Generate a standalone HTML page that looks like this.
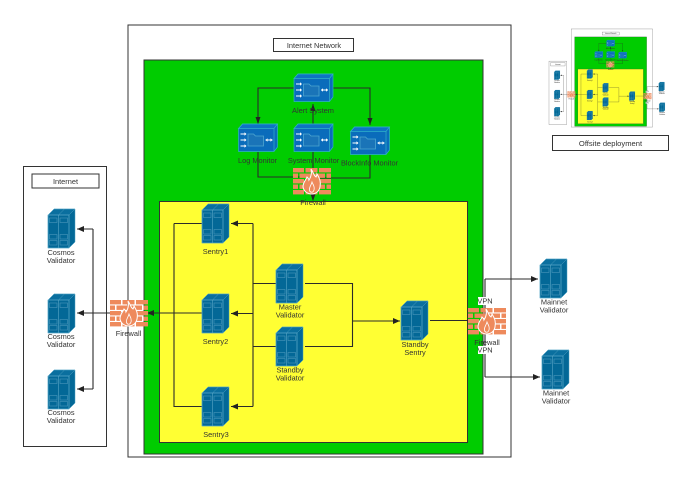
<!DOCTYPE html>
<html><head><meta charset="utf-8"><style>
html,body{margin:0;padding:0;background:#fff;width:700px;height:488px;overflow:hidden}
svg{display:block}
text{font-family:"Liberation Sans",sans-serif;font-size:7.4px;fill:#333;text-anchor:middle}
.c{fill:none;stroke:#2b2b2b;stroke-width:1.1}
.b{stroke:#333;stroke-width:1}
</style></head><body>
<svg width="700" height="488" viewBox="0 0 700 488" xmlns="http://www.w3.org/2000/svg">
<defs>
<filter id="soft" x="-5%" y="-5%" width="110%" height="110%"><feGaussianBlur stdDeviation=".35"/></filter>
<g id="srv">
<path d="M0 6L6 0H27V33L21 39H0Z" fill="#036897" stroke="#4fa3c4" stroke-width=".5"/>
<path d="M0 6L6 0H27L21 6Z" fill="#0a6f9f" stroke="#5aa9c9" stroke-width=".5"/>
<path d="M10.500 6L16.500 0M21 6L27 0M21 6V39" fill="none" stroke="#4f9fc0" stroke-width=".5"/>
<path d="M0 6H21V39H0ZM10.500 6V39" fill="none" stroke="#5aa9c9" stroke-width=".6"/>
<g fill="none" stroke="#4a97bb" stroke-width=".6">
<rect x="1.500" y="9" width="7.500" height="4.500"/><rect x="12" y="9" width="7.500" height="4.500"/>
<rect x="1.500" y="25.500" width="7.500" height="4.500"/><rect x="12" y="25.500" width="7.500" height="4.500"/>
<rect x="1.500" y="31.500" width="7.500" height="4.500"/><rect x="12" y="31.500" width="7.500" height="4.500"/>
</g>
</g>
<g id="mon">
<path d="M0 4.500L4 0H39V23L35.500 27.500H0Z" fill="#0a6cbb" stroke="#2fb0c8" stroke-width=".7"/>
<path d="M0 4.500L4 0H39L35.500 4.500ZM35.500 4.500V27.500" fill="#0d74c4" stroke="#2fb0c8" stroke-width=".7"/>
<path d="M9.500 10H15L17 12H25V22H9.500Z" fill="#1a74b8" stroke="#4ea6d0" stroke-width=".8"/>
<g stroke="#fff" stroke-width="1" fill="#fff">
<path d="M2 10H6M2 16H6M2 22H6" /><path d="M6 8.300L8 10L6 11.700ZM6 14.300L8 16L6 17.700ZM6 20.300L8 22L6 23.700Z" stroke="none"/>
<path d="M27 16H34" /><path d="M29 14.300L27 16L29 17.700ZM32 14.300L34 16L32 17.700Z" stroke="none"/>
</g>
</g>
<g id="fw">
<g fill="#ee8a5c">
<rect x="0" y="0" width="11" height="4.400"/><rect x="12.500" y="0" width="12" height="4.400"/><rect x="26" y="0" width="12" height="4.400"/>
<rect x="0" y="5.500" width="5" height="4.400"/><rect x="6.500" y="5.500" width="12" height="4.400"/><rect x="20" y="5.500" width="12" height="4.400"/><rect x="33.500" y="5.500" width="4.500" height="4.400"/>
<rect x="0" y="11" width="11" height="4.400"/><rect x="12.500" y="11" width="12" height="4.400"/><rect x="26" y="11" width="12" height="4.400"/>
<rect x="0" y="16.500" width="5" height="4.400"/><rect x="6.500" y="16.500" width="12" height="4.400"/><rect x="20" y="16.500" width="12" height="4.400"/><rect x="33.500" y="16.500" width="4.500" height="4.400"/>
<rect x="0" y="22" width="11" height="4.400"/><rect x="12.500" y="22" width="12" height="4.400"/><rect x="26" y="22" width="12" height="4.400"/>
</g>
<path d="M18 1C21 5 20 7 23 9C24 7 24 7 24 6C27 11 28 14 27 19C26 24 22 26 19 26C15 26 11 24 10 19C10 14 13 12 14 9C15 10 16 11 16 12C18 9 19 5 18 1Z" fill="#ee8a5c" stroke="#fff" stroke-width="1"/>
<path d="M19 14C20 17 22 18 21 22C20 25 17 25 16.500 22C16 19 18 18 19 14Z" fill="none" stroke="#fff" stroke-width=".8"/>
</g>
<path id="al" d="M0 0L7 -3V3Z" fill="#222"/>
<path id="ar" d="M0 0L-7 -3V3Z" fill="#222"/>
<path id="ad" d="M0 0L-2.500 -7H2.500Z" fill="#222"/>
<path id="au" d="M0 0L-2.500 7H2.500Z" fill="#222"/>
<g id="main">
<rect x="128" y="25" width="383" height="432" fill="#fff" stroke="#333"/>
<rect x="273.500" y="38.500" width="80" height="13" fill="#fff" class="b"/>
<text x="314" y="48">Internet Network</text>
<rect x="144" y="60" width="339" height="394" fill="#00cc00" stroke="#333"/>
<rect x="159.500" y="201.500" width="308" height="241" fill="#ffff33" stroke="#333"/>
<rect x="23.500" y="166.500" width="83" height="280" fill="#fff" class="b"/>
<rect x="32" y="174" width="67" height="14" fill="#fff" class="b"/>
<text x="65.500" y="184">Internet</text>

<path class="c" d="M294 88H258V124M333 88H370V125M313 124V104M313 152V200M258 152V177H313M370 155V178H313"/>
<path class="c" d="M147 313H77M93 229H77M93 229V389M93 389H77M202 313H147M174 223.500H202M174 223.500V406.500H202"/>
<path class="c" d="M276 283.500H253M276 346.500H253M253 223.500V406.500M253 223.500H231M253 313.500H231M253 406.500H231"/>
<path class="c" d="M305 283.500H352.500V346.500H305M352.500 321H400M430 320.500H468M485 279V377M485 279H538M485 377H540"/>
<use href="#ad" x="258" y="124"/><use href="#ad" x="370" y="125"/><use href="#au" x="313" y="104"/><use href="#ad" x="313" y="201"/>
<use href="#al" x="77" y="229"/><use href="#al" x="77" y="313"/><use href="#al" x="77" y="389"/><use href="#al" x="147" y="313"/>
<use href="#al" x="231" y="223.500"/><use href="#al" x="231" y="313.500"/><use href="#al" x="231" y="406.500"/>
<use href="#ar" x="400" y="321"/><use href="#ar" x="538" y="279"/><use href="#ar" x="540" y="377"/>

<use href="#mon" x="294" y="74"/><use href="#mon" x="238.500" y="124"/><use href="#mon" x="294" y="124"/><use href="#mon" x="350.500" y="127"/>
<text x="313" y="113">Alert  System</text><text x="257.500" y="163">Log Monitor</text><text x="313.500" y="163">System Monitor</text><text x="369.500" y="165.500">BlockInfo Monitor</text>

<use href="#srv" x="48" y="209"/><use href="#srv" x="48" y="294"/><use href="#srv" x="48" y="370"/>
<text x="61" y="255">Cosmos</text><text x="61" y="263">Validator</text>
<text x="61" y="339">Cosmos</text><text x="61" y="347">Validator</text>
<text x="61" y="415">Cosmos</text><text x="61" y="423">Validator</text>
<use href="#srv" x="202" y="204"/><use href="#srv" x="202" y="294"/><use href="#srv" x="202" y="387"/>
<text x="215.500" y="254">Sentry1</text><text x="215.500" y="344">Sentry2</text><text x="216" y="437">Sentry3</text>
<use href="#srv" x="276" y="264"/><use href="#srv" x="276" y="327"/>
<text x="290" y="309.500">Master</text><text x="290" y="317.500">Validator</text>
<text x="290" y="372.500">Standby</text><text x="290" y="380.500">Validator</text>
<use href="#srv" x="401" y="301"/>
<text x="415" y="347">Standby</text><text x="415" y="355">Sentry</text>
<use href="#srv" x="540" y="259"/><use href="#srv" x="542" y="350"/>
<text x="554" y="304.500">Mainnet</text><text x="554" y="312.500">Validator</text>
<text x="556" y="395.500">Mainnet</text><text x="556" y="403.500">Validator</text>

<use href="#fw" x="293" y="168"/><text x="313" y="205">Firewall</text>
<use href="#fw" x="110" y="300"/><text x="128.500" y="336">Firewall</text>
<use href="#fw" x="468" y="308"/><text x="487" y="345">Firewall</text>
<rect x="478" y="297" width="14" height="8" fill="#fff"/><text x="485" y="303.500">VPN</text>
<rect x="478" y="346" width="14" height="8" fill="#fff"/><text x="485" y="352.500">VPN</text>
</g>
</defs>

<use href="#main"/>
<g filter="url(#soft)"><use href="#main" transform="translate(544 23.300) scale(.2125 .227)"/></g>
<rect x="552.500" y="135.500" width="116" height="15" fill="#fff" class="b"/>
<text x="610.500" y="146" style="font-size:7.6px">Offsite deployment</text>
</svg>
</body></html>
